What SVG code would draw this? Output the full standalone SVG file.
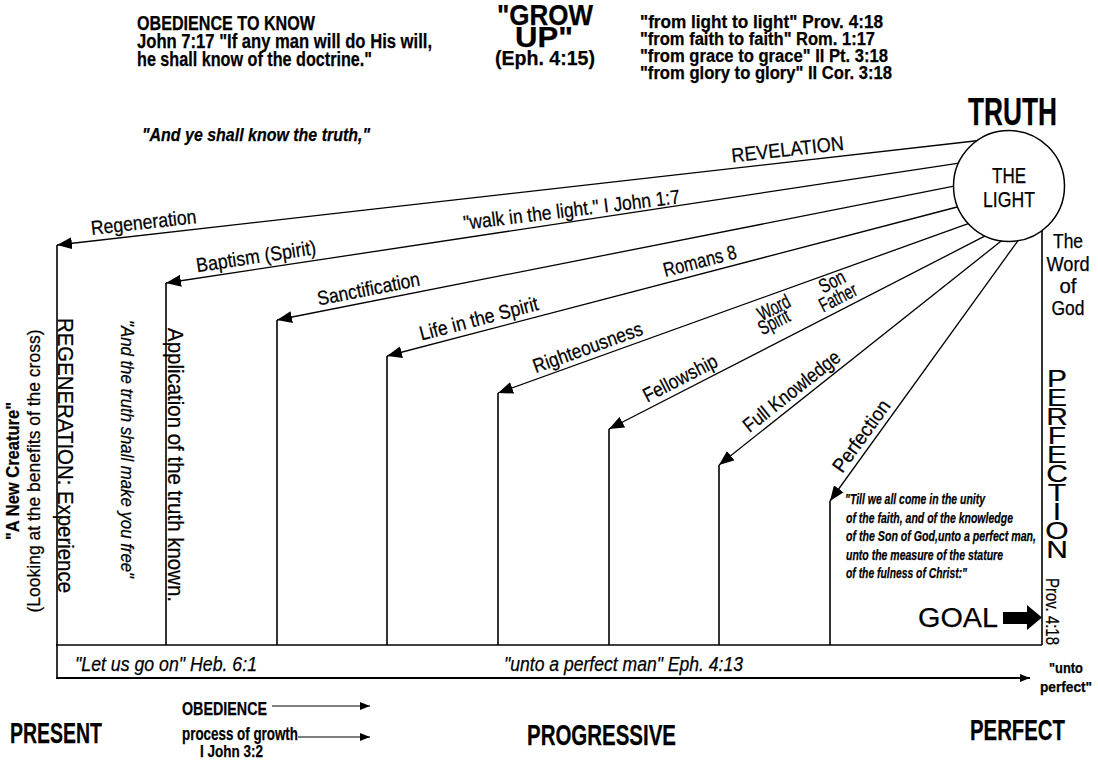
<svg xmlns="http://www.w3.org/2000/svg" width="1098" height="768" viewBox="0 0 1098 768">
<style>
text{font-family:"Liberation Sans",Arial,sans-serif;fill:#000;stroke:#000;stroke-width:0.25}
.b{font-weight:bold}
.i{font-style:italic}
.lbl{font-size:20px;text-anchor:middle}
.ray{stroke:#000;stroke-width:1.3;fill:none}
.bar{stroke:#000;stroke-width:1.6;fill:none}
</style>
<defs>
<marker id="ah" markerUnits="userSpaceOnUse" markerWidth="16" markerHeight="12" refX="15" refY="6" orient="auto">
<path d="M0,0 L15,6 L0,12 z" fill="#000"/>
</marker>
<marker id="sa" markerUnits="userSpaceOnUse" markerWidth="10" markerHeight="8" refX="10" refY="4" orient="auto">
<path d="M0,0 L10,4 L0,8 z" fill="#000"/>
</marker>
</defs>
<rect width="1098" height="768" fill="#fff"/>

<g id="connectors">
<line class="ray" x1="979" y1="140.5" x2="57" y2="245" marker-end="url(#ah)"/>
<line class="ray" x1="964" y1="162.4" x2="166" y2="283" marker-end="url(#ah)"/>
<line class="ray" x1="959" y1="185.2" x2="277" y2="320" marker-end="url(#ah)"/>
<line class="ray" x1="961" y1="206" x2="387" y2="356" marker-end="url(#ah)"/>
<line class="ray" x1="971" y1="222.6" x2="498" y2="393" marker-end="url(#ah)"/>
<line class="ray" x1="986.6" y1="235.2" x2="609" y2="429" marker-end="url(#ah)"/>
<line class="ray" x1="1003.1" y1="239.5" x2="719" y2="465" marker-end="url(#ah)"/>
<line class="ray" x1="1019.3" y1="238.8" x2="830" y2="501" marker-end="url(#ah)"/>
<line class="bar" x1="57" y1="245" x2="57" y2="678"/>
<line class="bar" x1="166" y1="283" x2="166" y2="645"/>
<line class="bar" x1="277" y1="320" x2="277" y2="645"/>
<line class="bar" x1="387" y1="356" x2="387" y2="645"/>
<line class="bar" x1="498" y1="393" x2="498" y2="645"/>
<line class="bar" x1="609" y1="429" x2="609" y2="645"/>
<line class="bar" x1="719" y1="465" x2="719" y2="645"/>
<line class="bar" x1="830" y1="501" x2="830" y2="645"/>
<line class="bar" x1="1042" y1="228" x2="1042" y2="645"/>
<line class="bar" x1="56" y1="645" x2="1042" y2="645"/>
<line x1="56" y1="678" x2="1030" y2="678" stroke="#000" stroke-width="2.2" marker-end="url(#sa)"/>
<line x1="272" y1="706" x2="370" y2="706" stroke="#000" stroke-width="1.2" marker-end="url(#sa)"/>
<line x1="298" y1="737" x2="370" y2="737" stroke="#000" stroke-width="1.2" marker-end="url(#sa)"/>
</g>

<g id="light">
<circle cx="1009" cy="186" r="55.5" fill="#fff" stroke="#000" stroke-width="1.5"/>
<text x="1009" y="183" font-size="22" text-anchor="middle" textLength="34" lengthAdjust="spacingAndGlyphs">THE</text>
<text x="1009" y="207" font-size="22" text-anchor="middle" textLength="52" lengthAdjust="spacingAndGlyphs">LIGHT</text>
</g>

<g id="truth"><text class="b" x="968" y="125" font-size="39" textLength="89" lengthAdjust="spacingAndGlyphs">TRUTH</text></g>

<g id="obedience-to-know">
<text class="b" x="137" y="30" font-size="20" textLength="178" lengthAdjust="spacingAndGlyphs">OBEDIENCE TO KNOW</text>
<text class="b" x="137" y="48" font-size="20" textLength="295" lengthAdjust="spacingAndGlyphs">John 7:17 "If any man will do His will,</text>
<text class="b" x="137" y="66" font-size="20" textLength="235" lengthAdjust="spacingAndGlyphs">he shall know of the doctrine."</text>
</g>
<g id="know-truth"><text class="b i" x="142" y="141" font-size="19" textLength="228" lengthAdjust="spacingAndGlyphs">"And ye shall know the truth,"</text></g>

<g id="grow-up">
<text class="b" x="545" y="25" font-size="30" text-anchor="middle" textLength="96" lengthAdjust="spacingAndGlyphs">"GROW</text>
<text class="b" x="544" y="47" font-size="30" text-anchor="middle" textLength="58" lengthAdjust="spacingAndGlyphs">UP"</text>
<text class="b" x="545" y="65" font-size="21" text-anchor="middle" textLength="100" lengthAdjust="spacingAndGlyphs">(Eph. 4:15)</text>
</g>

<g id="from-to">
<text class="b" x="640" y="28" font-size="18" textLength="243" lengthAdjust="spacingAndGlyphs">"from light to light" Prov. 4:18</text>
<text class="b" x="640" y="45" font-size="18" textLength="235" lengthAdjust="spacingAndGlyphs">"from faith to faith" Rom. 1:17</text>
<text class="b" x="640" y="62" font-size="18" textLength="248" lengthAdjust="spacingAndGlyphs">"from grace to grace" II Pt. 3:18</text>
<text class="b" x="640" y="79" font-size="18" textLength="252" lengthAdjust="spacingAndGlyphs">"from glory to glory" II Cor. 3:18</text>
</g>

<g id="word-of-god">
<text x="1068" y="248" font-size="20" text-anchor="middle" textLength="30" lengthAdjust="spacingAndGlyphs">The</text>
<text x="1068" y="271" font-size="20" text-anchor="middle" textLength="43" lengthAdjust="spacingAndGlyphs">Word</text>
<text x="1068" y="293" font-size="20" text-anchor="middle" textLength="17" lengthAdjust="spacingAndGlyphs">of</text>
<text x="1068" y="315" font-size="20" text-anchor="middle" textLength="33" lengthAdjust="spacingAndGlyphs">God</text>
</g>

<g id="ray-labels">
<text class="lbl" transform="translate(145,235) rotate(-6.46)" y="-6" textLength="106" lengthAdjust="spacingAndGlyphs">Regeneration</text>
<text class="lbl" transform="translate(789,162.1) rotate(-6.46)" y="-6" font-size="21" textLength="113" lengthAdjust="spacingAndGlyphs">REVELATION</text>
<text class="lbl" transform="translate(573,221.5) rotate(-7)" y="-5" textLength="218" lengthAdjust="spacingAndGlyphs">"walk in the light." I John 1:7</text>
<text class="lbl" transform="translate(258,269.1) rotate(-8.59)" y="-6" textLength="121" lengthAdjust="spacingAndGlyphs">Baptism (Spirit)</text>
<text class="lbl" transform="translate(371,301.4) rotate(-11.18)" y="-6" font-size="22" textLength="104" lengthAdjust="spacingAndGlyphs">Sanctification</text>
<text class="lbl" transform="translate(703,273.4) rotate(-14.65)" y="-6" font-size="21" textLength="75" lengthAdjust="spacingAndGlyphs">Romans 8</text>
<text class="lbl" transform="translate(482,331) rotate(-14.65)" y="-6" textLength="122" lengthAdjust="spacingAndGlyphs">Life in the Spirit</text>
<text class="lbl" transform="translate(592,359.5) rotate(-19.82)" y="-6" textLength="115" lengthAdjust="spacingAndGlyphs">Righteousness</text>
<text class="lbl" transform="translate(686,389.5) rotate(-27.17)" y="-6" textLength="81" lengthAdjust="spacingAndGlyphs">Fellowship</text>
<text class="lbl" transform="translate(799.5,401.2) rotate(-38.43)" y="-6" textLength="118" lengthAdjust="spacingAndGlyphs">Full Knowledge</text>
<text class="lbl" transform="translate(871.7,443.5) rotate(-54.17)" y="-6" font-size="21" textLength="84" lengthAdjust="spacingAndGlyphs">Perfection</text>
<text class="lbl" transform="translate(777,313.5) rotate(-27)" font-size="15" textLength="34" lengthAdjust="spacingAndGlyphs">Word</text>
<text class="lbl" transform="translate(777,328) rotate(-27)" font-size="15" textLength="33" lengthAdjust="spacingAndGlyphs">Spirit</text>
<text class="lbl" transform="translate(835,287.5) rotate(-27)" font-size="15" textLength="27" lengthAdjust="spacingAndGlyphs">Son</text>
<text class="lbl" transform="translate(841,303.5) rotate(-27)" font-size="15" textLength="40" lengthAdjust="spacingAndGlyphs">Father</text>
</g>

<g id="left-verticals">
<text class="b" transform="translate(19,471) rotate(-90)" font-size="19" text-anchor="middle" textLength="138" lengthAdjust="spacingAndGlyphs">"A New Creature"</text>
<text transform="translate(40,471) rotate(-90)" font-size="19" text-anchor="middle" textLength="283" lengthAdjust="spacingAndGlyphs">(Looking at the benefits of the cross)</text>
<text transform="translate(58,455.5) rotate(90)" font-size="22" text-anchor="middle" textLength="275" lengthAdjust="spacingAndGlyphs">REGENERATION: Experience</text>
<text class="i" transform="translate(121,449) rotate(90)" font-size="19" text-anchor="middle" textLength="258" lengthAdjust="spacingAndGlyphs">"And the truth shall make you free"</text>
<text transform="translate(168,465) rotate(90)" font-size="22" text-anchor="middle" textLength="274" lengthAdjust="spacingAndGlyphs">Application of the truth known.</text>
</g>

<g id="perfection-quote">
<text class="b i" x="845" y="504" font-size="15" textLength="140" lengthAdjust="spacingAndGlyphs">"Till we all come in the unity</text>
<text class="b i" x="846" y="522.5" font-size="15" textLength="167" lengthAdjust="spacingAndGlyphs">of the faith, and of the knowledge</text>
<text class="b i" x="846" y="541" font-size="15" textLength="190" lengthAdjust="spacingAndGlyphs">of the Son of God,unto a perfect man,</text>
<text class="b i" x="846" y="559.5" font-size="15" textLength="157" lengthAdjust="spacingAndGlyphs">unto the measure of the stature</text>
<text class="b i" x="846" y="578" font-size="15" textLength="121" lengthAdjust="spacingAndGlyphs">of the fulness of Christ:"</text>
</g>

<g id="perfection-vertical">
<text transform="translate(1057,0) scale(1,0.78)" font-size="30" text-anchor="middle"><tspan x="0" y="496.15">P</tspan><tspan x="0" y="520.51">E</tspan><tspan x="0" y="544.87">R</tspan><tspan x="0" y="569.23">F</tspan><tspan x="0" y="593.59">E</tspan><tspan x="0" y="617.95">C</tspan><tspan x="0" y="642.31">T</tspan><tspan x="0" y="666.67">I</tspan><tspan x="0" y="691.03">O</tspan><tspan x="0" y="715.38">N</tspan></text>
</g>
<g id="prov-vertical"><text transform="translate(1046,611.5) rotate(90)" font-size="18" text-anchor="middle" textLength="67" lengthAdjust="spacingAndGlyphs">Prov. 4:18</text></g>

<g id="goal">
<text x="918" y="627" font-size="27" textLength="80" lengthAdjust="spacingAndGlyphs">GOAL</text>
<polygon points="1003,612 1027,612 1027,605 1042,617.5 1027,630 1027,624 1003,624" fill="#000"/>
</g>

<g id="timeline">
<text class="i" x="75" y="671" font-size="20" textLength="182" lengthAdjust="spacingAndGlyphs">"Let us go on" Heb. 6:1</text>
<text class="i" x="504" y="671" font-size="20" textLength="239" lengthAdjust="spacingAndGlyphs">"unto a perfect man" Eph. 4:13</text>
<text class="b" x="1066" y="673" font-size="15" text-anchor="middle" textLength="34" lengthAdjust="spacingAndGlyphs">"unto</text>
<text class="b" x="1066" y="692" font-size="15" text-anchor="middle" textLength="52" lengthAdjust="spacingAndGlyphs">perfect"</text>
</g>

<g id="present"><text class="b" x="10" y="743" font-size="30" textLength="92" lengthAdjust="spacingAndGlyphs">PRESENT</text></g>
<g id="obedience">
<text class="b" x="182" y="715" font-size="19" textLength="85" lengthAdjust="spacingAndGlyphs">OBEDIENCE</text>
<text class="b" x="182" y="740" font-size="19" textLength="116" lengthAdjust="spacingAndGlyphs">process of growth</text>
<text class="b" x="200" y="757" font-size="17" textLength="63" lengthAdjust="spacingAndGlyphs">I John 3:2</text>
</g>
<g id="progressive"><text class="b" x="527" y="745" font-size="30" textLength="149" lengthAdjust="spacingAndGlyphs">PROGRESSIVE</text></g>
<g id="perfect"><text class="b" x="970" y="740" font-size="30" textLength="95" lengthAdjust="spacingAndGlyphs">PERFECT</text></g>
</svg>
